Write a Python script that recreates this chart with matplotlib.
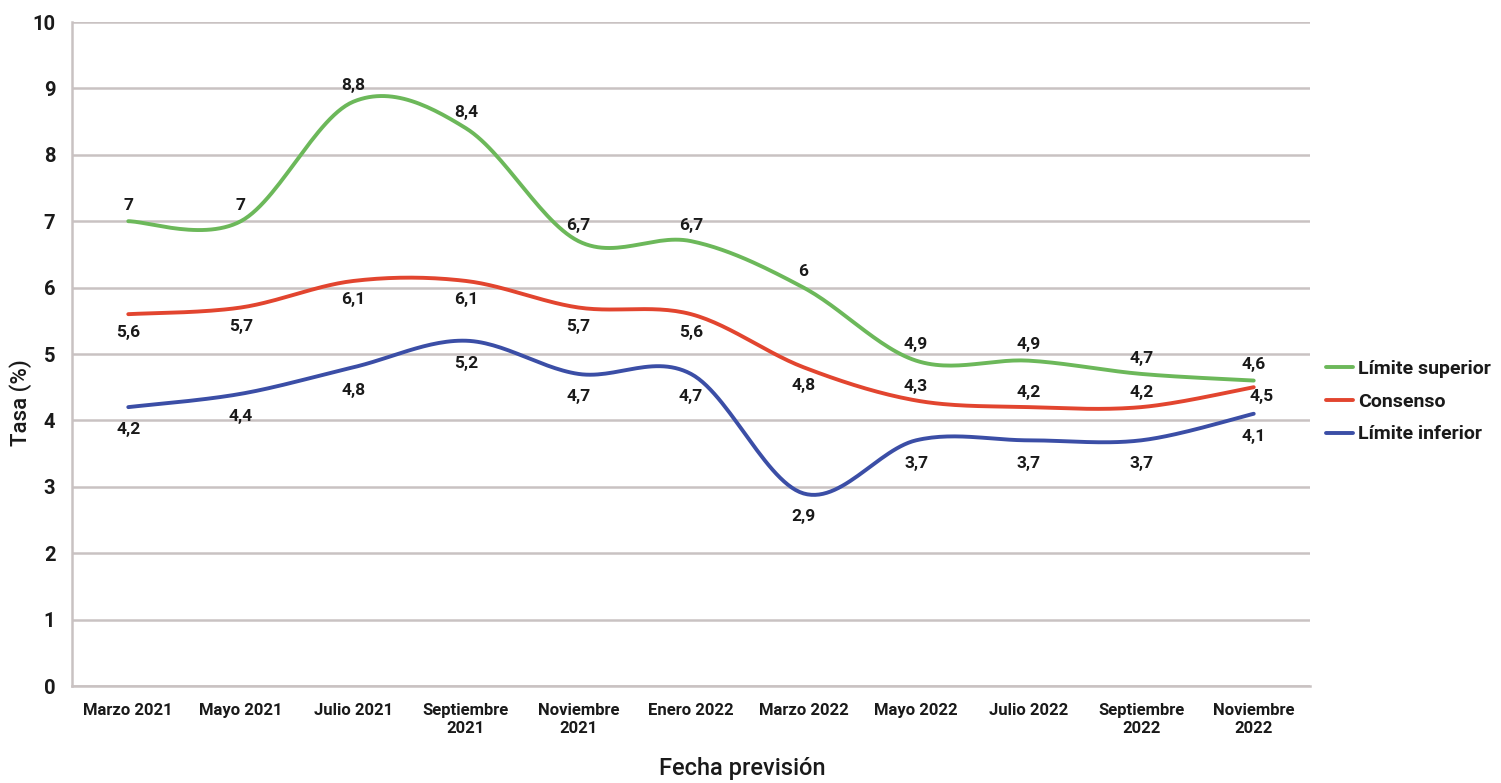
import numpy as np
import matplotlib
matplotlib.use("Agg")
import matplotlib.pyplot as plt

categories = ["Marzo 2021", "Mayo 2021", "Julio 2021", "Septiembre\n2021", "Noviembre\n2021",
              "Enero 2022", "Marzo 2022", "Mayo 2022", "Julio 2022", "Septiembre\n2022", "Noviembre\n2022"]
limite_superior = [7, 7, 8.8, 8.4, 6.7, 6.7, 6, 4.9, 4.9, 4.7, 4.6]
consenso = [5.6, 5.7, 6.1, 6.1, 5.7, 5.6, 4.8, 4.3, 4.2, 4.2, 4.5]
limite_inferior = [4.2, 4.4, 4.8, 5.2, 4.7, 4.7, 2.9, 3.7, 3.7, 3.7, 4.1]
y_ticks = list(range(0, 11))

plt.rcParams['font.family'] = ['Roboto', 'DejaVu Sans']

def smooth(xs, ys, n=30):
    xs = np.asarray(xs, float); ys = np.asarray(ys, float)
    P = np.column_stack([xs, ys])
    out = []
    for i in range(len(P) - 1):
        p0 = P[i - 1] if i > 0 else P[i]
        p1 = P[i]; p2 = P[i + 1]
        p3 = P[i + 2] if i + 2 < len(P) else P[i + 1]
        c1 = p1 + (p2 - p0) / 6.0
        c2 = p2 - (p3 - p1) / 6.0
        t = np.linspace(0, 1, n)[:, None]
        seg = (1 - t) ** 3 * p1 + 3 * (1 - t) ** 2 * t * c1 + 3 * (1 - t) * t ** 2 * c2 + t ** 3 * p2
        out.append(seg if i == 0 else seg[1:])
    S = np.vstack(out)
    return S[:, 0], S[:, 1]

fig = plt.figure(figsize=(15.01, 7.83), dpi=100)
ax = fig.add_axes([72 / 1501, 1 - 686 / 783, (1310 - 72) / 1501, (686 - 22) / 783])

x = np.arange(len(categories))
green = "#6cb85a"; red = "#e2452f"; blue = "#3b4ea6"
series = [("Límite superior", limite_superior, green),
          ("Consenso", consenso, red),
          ("Límite inferior", limite_inferior, blue)]
for name, vals, col in series:
    sx, sy = smooth(x, vals)
    ax.plot(sx, sy, color=col, lw=2.8, label=name, solid_capstyle='round')

def fmt(v):
    return ("%g" % v).replace(".", ",")

lab_kw = dict(ha='center', fontsize=12.5, fontweight='bold', color='#1a1a1a')
for i, v in enumerate(limite_superior):
    ax.annotate(fmt(v), (i, v), xytext=(0, 6), textcoords='offset points', va='bottom', **lab_kw)
for i, v in enumerate(consenso):
    if i in (7, 8, 9):
        ax.annotate(fmt(v), (i, v), xytext=(0, 5), textcoords='offset points', va='bottom', **lab_kw)
    elif i == 10:
        ax.annotate(fmt(v), (i, v), xytext=(6, -7), textcoords='offset points', va='center', **lab_kw)
    else:
        ax.annotate(fmt(v), (i, v), xytext=(0, -8), textcoords='offset points', va='top', **lab_kw)
for i, v in enumerate(limite_inferior):
    ax.annotate(fmt(v), (i, v), xytext=(0, -11), textcoords='offset points', va='top', **lab_kw)

ax.set_xlim(-0.5, len(categories) - 0.5)
ax.set_ylim(0, 10)
ax.set_yticks(y_ticks)
ax.set_xticks(x)
ax.set_xticklabels(categories, fontsize=12, fontweight='bold', color='#1a1a1a', linespacing=1.3)
ax.tick_params(axis='y', labelsize=14.5, length=0, pad=12, labelcolor='#1a1a1a')
ax.tick_params(axis='x', length=0, pad=12)
for t in ax.get_yticklabels():
    t.set_fontweight('bold')
ax.grid(axis='y', color='#c9c2c2', lw=1.8)
ax.set_axisbelow(True)
for s in ['top', 'right']:
    ax.spines[s].set_visible(False)
ax.spines['left'].set_color('#c9c2c2'); ax.spines['left'].set_linewidth(1.8)
ax.spines['bottom'].set_color('#c9c2c2'); ax.spines['bottom'].set_linewidth(1.8)

fig.text(21 / 1501, 1 - 403 / 783, "Tasa (%)", rotation=90, ha='center', va='center',
         fontsize=16, fontweight='medium', color='#1a1a1a')
fig.text(742 / 1501, 1 - 768 / 783, "Fecha previsión", ha='center', va='center',
         fontsize=17, fontweight='medium', color='#1a1a1a')

leg = ax.legend(loc='center left', bbox_to_anchor=(1.0, 0.428), frameon=False,
                prop={'size': 14, 'weight': 'bold'}, handlelength=1.4, handletextpad=0.25,
                labelspacing=0.75, borderaxespad=0.4)
for t in leg.get_texts():
    t.set_color('#1a1a1a')

fig.savefig("out.png", dpi=100, facecolor='white')
